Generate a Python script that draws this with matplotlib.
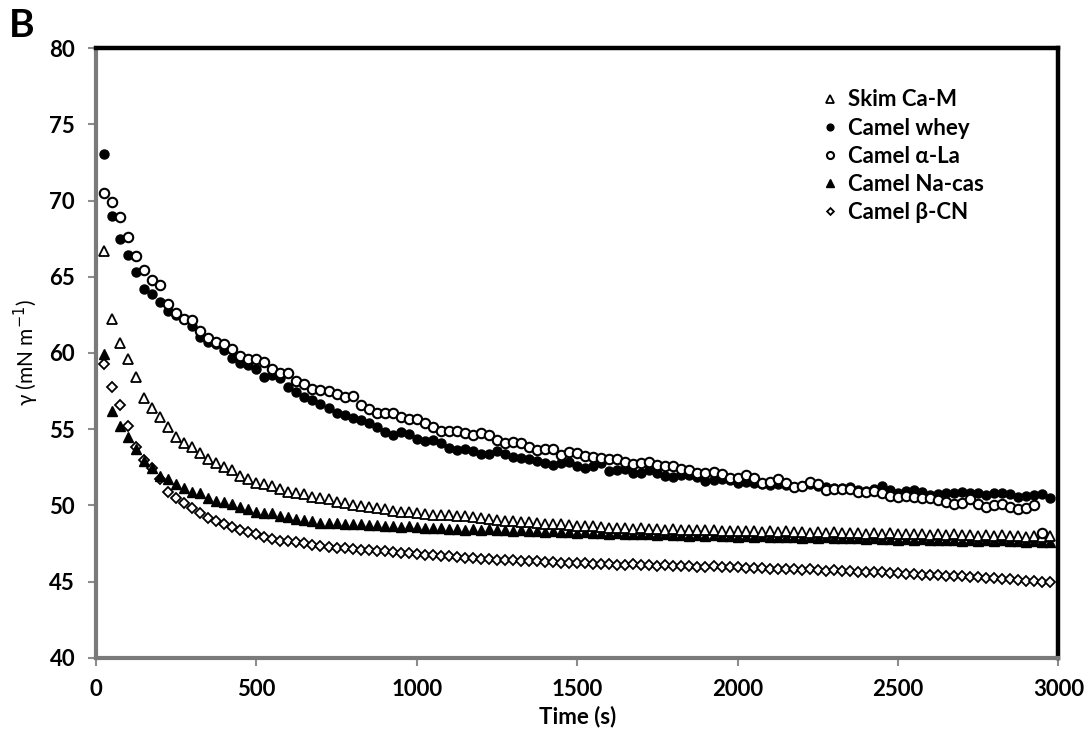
import numpy as np
import matplotlib
matplotlib.use("Agg")
import matplotlib.pyplot as plt

plt.rcParams['font.family'] = ['Lato', 'DejaVu Sans']

time_s = [25, 50, 75, 100, 125, 150, 175, 200, 225, 250, 275, 300, 325, 350, 375, 400, 425, 450, 475, 500,
          525, 550, 575, 600, 625, 650, 675, 700, 725, 750, 775, 800, 825, 850, 875, 900, 925, 950, 975, 1000,
          1025, 1050, 1075, 1100, 1125, 1150, 1175, 1200, 1225, 1250, 1275, 1300, 1325, 1350, 1375, 1400, 1425, 1450, 1475, 1500,
          1525, 1550, 1575, 1600, 1625, 1650, 1675, 1700, 1725, 1750, 1775, 1800, 1825, 1850, 1875, 1900, 1925, 1950, 1975, 2000,
          2025, 2050, 2075, 2100, 2125, 2150, 2175, 2200, 2225, 2250, 2275, 2300, 2325, 2350, 2375, 2400, 2425, 2450, 2475, 2500,
          2525, 2550, 2575, 2600, 2625, 2650, 2675, 2700, 2725, 2750, 2775, 2800, 2825, 2850, 2875, 2900, 2925, 2950, 2975]

skim_ca_m = [66.71, 62.21, 60.64, 59.59, 58.40, 57.03, 56.37, 55.78, 55.17, 54.51, 54.12, 53.82, 53.46, 53.03, 52.81,
             52.55, 52.33, 51.95, 51.74, 51.50, 51.41, 51.30, 51.08, 50.90, 50.80, 50.73, 50.58, 50.47, 50.41, 50.25,
             50.15, 50.05, 49.95, 49.90, 49.85, 49.75, 49.65, 49.60, 49.55, 49.50,
             49.45, 49.40, 49.38, 49.35, 49.32, 49.30, 49.22, 49.15, 49.10, 49.05,
             49.00, 48.97, 48.92, 48.88, 48.85, 48.80, 48.78, 48.75, 48.70, 48.68,
             48.66, 48.64, 48.60, 48.55, 48.50, 48.52, 48.48, 48.50, 48.45, 48.47,
             48.42, 48.44, 48.40, 48.38, 48.40, 48.36, 48.38, 48.33, 48.35, 48.30,
             48.34, 48.30, 48.28, 48.32, 48.27, 48.30, 48.25, 48.28, 48.22, 48.26,
             48.20, 48.24, 48.20, 48.18, 48.22, 48.15, 48.18, 48.14, 48.17, 48.12,
             48.15, 48.10, 48.14, 48.08, 48.12, 48.06, 48.10, 48.05, 48.08, 48.02,
             48.06, 48.00, 48.04, 47.98, 48.02, 47.96, 48.00, 47.95, 47.98]

camel_whey = [73.05, 68.98, 67.48, 66.45, 65.29, 64.17, 63.85, 63.34, 62.75, 62.47, 62.25, 61.77, 61.07, 60.72, 60.57,
              60.20, 59.65, 59.36, 59.19, 58.95, 58.41, 58.56, 58.34, 57.75, 57.42, 57.14, 56.92, 56.66, 56.37, 56.09,
              55.93, 55.72, 55.61, 55.43, 55.17, 54.84, 54.62, 54.84, 54.67, 54.34,
              54.25, 54.30, 54.08, 53.75, 53.64, 53.70, 53.59, 53.38, 53.38, 53.57,
              53.38, 53.16, 53.09, 53.05, 52.94, 52.77, 52.66, 52.81, 52.87, 52.59,
              52.44, 52.59, 52.77, 52.28, 52.33, 52.37,
              52.15, 52.15, 52.33, 52.11, 51.93, 51.89, 52.00, 52.00, 51.89, 51.63,
              51.67, 51.72, 51.67, 51.45, 51.56, 51.50, 51.41, 51.34, 51.41, 51.34,
              51.24, 51.28, 51.41, 51.28, 51.19, 51.13, 51.13, 51.24, 51.02, 50.97,
              51.06, 51.28, 51.02, 50.80, 50.97, 51.02, 50.91, 50.69, 50.75, 50.84,
              50.80, 50.91, 50.84, 50.84, 50.69, 50.80, 50.80, 50.75, 50.58, 50.62,
              50.69, 50.75, 50.47]

camel_alpha_la = [70.51, 69.92, 68.90, 67.63, 66.36, 65.44, 64.79, 64.46, 63.21, 62.60, 62.25, 62.16, 61.42, 60.98, 60.72,
                  60.57, 60.24, 59.80, 59.59, 59.63, 59.43, 58.93, 58.67, 58.67, 58.18, 57.97, 57.62, 57.57, 57.50, 57.29,
                  57.14, 57.18, 56.59, 56.31, 56.09, 56.09, 56.09, 55.82, 55.65, 55.65,
                  55.43, 55.17, 54.91, 54.91, 54.91, 54.73, 54.62, 54.78, 54.62, 54.30,
                  54.12, 54.19, 54.12, 53.86, 53.64, 53.68, 53.68, 53.31, 53.53, 53.42,
                  53.25, 53.20, 53.09, 53.05, 53.05, 52.88,
                  52.72, 52.77, 52.83, 52.66, 52.59, 52.59, 52.37, 52.33, 52.15, 52.15,
                  52.22, 52.04, 51.78, 51.78, 52.00, 51.78, 51.50, 51.56, 51.72, 51.50,
                  51.24, 51.28, 51.56, 51.41, 51.02, 51.06, 51.06, 51.06, 50.91, 50.91,
                  50.95, 50.84, 50.62, 50.58, 50.62, 50.58, 50.47, 50.47, 50.36, 50.25,
                  50.10, 50.19, 50.41, 50.10, 49.92, 50.03, 50.10, 49.92, 49.75, 49.82,
                  50.03, 48.20, np.nan]

camel_na_cas = [59.91, 56.20, 55.21, 54.51, 53.70, 52.92, 52.48, 51.95, 51.72, 51.41, 51.17, 50.87, 50.80, 50.51, 50.30,
                50.25, 50.10, 49.92, 49.77, 49.60, 49.53, 49.49, 49.33, 49.23, 49.11, 49.05, 48.98, 48.87, 48.83, 48.83,
                48.80, 48.78, 48.75, 48.70, 48.72, 48.66, 48.64, 48.60, 48.62, 48.56,
                48.52, 48.55, 48.50, 48.47, 48.48, 48.42, 48.45, 48.40, 48.43, 48.38,
                48.40, 48.35, 48.37, 48.32, 48.35, 48.28, 48.30, 48.26, 48.28, 48.22,
                48.25, 48.20, 48.18, 48.15, 48.18, 48.12, 48.15, 48.10, 48.12, 48.08,
                48.10, 48.05, 48.08, 48.02, 48.06, 48.00, 48.03, 47.98, 48.02, 47.96,
                48.00, 47.94, 47.97, 47.92, 47.95, 47.90, 47.93, 47.88, 47.92, 47.86,
                47.90, 47.85, 47.88, 47.83, 47.86, 47.80, 47.84, 47.78, 47.82, 47.76,
                47.80, 47.75, 47.78, 47.72, 47.76, 47.70, 47.74, 47.69, 47.72, 47.67,
                47.71, 47.66, 47.70, 47.64, 47.68, 47.62, 47.66, 47.60, 47.63]

camel_beta_cn = [59.28, 57.75, 56.59, 55.21, 53.82, 52.98, 52.44, 51.72, 50.90, 50.51, 50.18, 49.81, 49.49, 49.20, 49.00,
                 48.79, 48.61, 48.39, 48.24, 48.11, 47.95, 47.80, 47.69, 47.67, 47.59, 47.52, 47.41, 47.34, 47.30, 47.23,
                 47.20, 47.15, 47.10, 47.08, 47.02, 46.98, 46.95, 46.90, 46.86, 46.82,
                 46.78, 46.75, 46.70, 46.65, 46.60, 46.56, 46.52, 46.50, 46.47, 46.43,
                 46.42, 46.40, 46.38, 46.36, 46.33, 46.30, 46.28, 46.25, 46.24, 46.22,
                 46.20, 46.18, 46.16, 46.15, 46.12, 46.10, 46.14, 46.08, 46.06, 46.05,
                 46.08, 46.03, 46.00, 46.02, 45.98, 45.97, 46.00, 45.95, 45.93, 45.95,
                 45.90, 45.88, 45.90, 45.85, 45.83, 45.86, 45.80, 45.78, 45.80, 45.75,
                 45.73, 45.76, 45.70, 45.68, 45.65, 45.62, 45.60, 45.65, 45.58, 45.55,
                 45.50, 45.52, 45.45, 45.42, 45.45, 45.38, 45.35, 45.40, 45.32, 45.28,
                 45.25, 45.22, 45.18, 45.15, 45.10, 45.05, 45.02, 44.98, 44.95]

labels = ["Skim Ca-M", "Camel whey", "Camel α-La", "Camel Na-cas", "Camel β-CN"]
x_ticks = [0, 500, 1000, 1500, 2000, 2500, 3000]
y_ticks = [40, 45, 50, 55, 60, 65, 70, 75, 80]

fig = plt.figure(figsize=(10.9, 7.4), dpi=100)
ax = fig.add_axes([0.088, 0.111, 0.883, 0.824])

styles = [
    dict(marker='^', mfc='white', mec='black', ms=6.8, mew=1.3),
    dict(marker='o', mfc='black', mec='black', ms=6.5, mew=1.0),
    dict(marker='o', mfc='white', mec='black', ms=6.8, mew=1.5),
    dict(marker='^', mfc='black', mec='black', ms=6.8, mew=1.0),
    dict(marker='D', mfc='white', mec='black', ms=4.6, mew=1.3),
]
series = [skim_ca_m, camel_whey, camel_alpha_la, camel_na_cas, camel_beta_cn]
order = [4, 3, 0, 1, 2]
handles = {}
for i in order:
    h, = ax.plot(time_s, series[i], linestyle='none', label=labels[i], **styles[i])
    handles[i] = h

ax.set_xlim(0, 3000)
ax.set_ylim(40, 80)
ax.set_xticks(x_ticks)
ax.set_yticks(y_ticks)
ax.tick_params(axis='both', direction='out', length=6, width=1.5, color='#8c8c8c',
               labelsize=16, pad=9)
for lab in ax.get_xticklabels() + ax.get_yticklabels():
    lab.set_fontweight('bold')

for side in ['top', 'right']:
    ax.spines[side].set_color('black')
    ax.spines[side].set_linewidth(3.2)
for side in ['left', 'bottom']:
    ax.spines[side].set_color('#7a7a7a')
    ax.spines[side].set_linewidth(3.0)

ax.set_xlabel("Time (s)", fontsize=16, fontweight='bold', labelpad=4)
ax.set_ylabel("γ (mN m$^{-1}$)", fontsize=15, labelpad=6)

leg = ax.legend([handles[i] for i in range(5)], labels, loc='upper right',
                bbox_to_anchor=(0.943, 0.965), frameon=False, fontsize=16,
                markerscale=0.75, handletextpad=0.3, labelspacing=0.32, handlelength=1.0)
for t in leg.get_texts():
    t.set_fontweight('bold')

fig.text(0.008, 0.950, "B", fontsize=28, fontweight='bold')

fig.savefig("out.png", dpi=100)
